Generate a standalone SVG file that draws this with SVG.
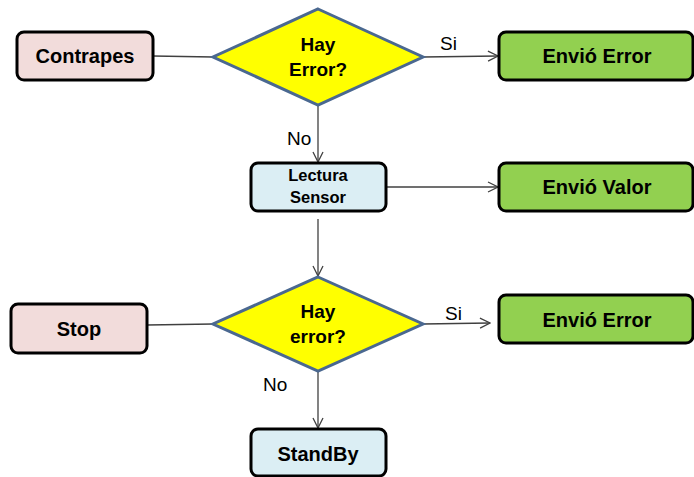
<svg xmlns="http://www.w3.org/2000/svg" width="694" height="477" viewBox="0 0 694 477">
  <defs>
    <style>
      .box { stroke: #000; stroke-width: 3; }
      .pink { fill: #F2DCDB; }
      .blue { fill: #DBEEF4; }
      .green { fill: #92D050; }
      .dec { fill: #FFFF00; stroke: #4A6890; stroke-width: 3; stroke-linejoin: miter; }
      .lbl { font-family: "Liberation Sans", Arial, sans-serif; font-weight: bold; fill: #000; text-anchor: middle; }
      .big { font-size: 20px; }
      .mid { font-size: 19px; }
      .small { font-size: 16.5px; }
      .edge { font-family: "Liberation Sans", Arial, sans-serif; font-size: 19px; fill: #000; }
      .conn { stroke: #404040; stroke-width: 1.3; fill: none; }
    </style>
    <marker id="arrow" viewBox="0 0 12 12" refX="11" refY="6" markerWidth="12" markerHeight="12" markerUnits="userSpaceOnUse" orient="auto">
      <path d="M1,1 L11,6 L1,11" fill="none" stroke="#404040" stroke-width="1.3"/>
    </marker>
  </defs>
  <rect width="694" height="477" fill="#fff"/>

  <g id="connectors">
    <line class="conn" x1="153" y1="56" x2="213" y2="57"/>
    <line class="conn" x1="423" y1="57" x2="498" y2="56" marker-end="url(#arrow)"/>
    <line class="conn" x1="318" y1="105" x2="318" y2="162" marker-end="url(#arrow)"/>
    <line class="conn" x1="386" y1="187" x2="498" y2="187" marker-end="url(#arrow)"/>
    <line class="conn" x1="318" y1="219" x2="318" y2="276" marker-end="url(#arrow)"/>
    <line class="conn" x1="147" y1="325" x2="213" y2="324"/>
    <line class="conn" x1="423" y1="324" x2="490" y2="323" marker-end="url(#arrow)"/>
    <line class="conn" x1="318" y1="371" x2="318" y2="428" marker-end="url(#arrow)"/>
    <text class="edge" x="440" y="50">Si</text>
    <text class="edge" x="287" y="145">No</text>
    <text class="edge" x="445" y="320">Si</text>
    <text class="edge" x="263" y="391">No</text>
  </g>

  <g id="contrapes">
    <rect class="box pink" x="17" y="32" width="136" height="48" rx="7"/>
    <text class="lbl big" x="85" y="63">Contrapes</text>
  </g>

  <g id="decision1">
    <polygon class="dec" points="318,9 423,57 318,105 213,57"/>
    <text class="lbl mid" x="318" y="51">Hay</text>
    <text class="lbl mid" x="318" y="76">Error?</text>
  </g>

  <g id="envio-error-1">
    <rect class="box green" x="499" y="32" width="194" height="48" rx="7"/>
    <text class="lbl big" x="597" y="63">Envió Error</text>
  </g>

  <g id="lectura-sensor">
    <rect class="box blue" x="251" y="163" width="135" height="48" rx="7"/>
    <text class="lbl small" x="318" y="181">Lectura</text>
    <text class="lbl small" x="318" y="203">Sensor</text>
  </g>

  <g id="envio-valor">
    <rect class="box green" x="499" y="163" width="194" height="48" rx="7"/>
    <text class="lbl big" x="597" y="194">Envió Valor</text>
  </g>

  <g id="stop">
    <rect class="box pink" x="11" y="304" width="136" height="49" rx="7"/>
    <text class="lbl big" x="79" y="336">Stop</text>
  </g>

  <g id="decision2">
    <polygon class="dec" points="318,277 423,324 318,371 213,324"/>
    <text class="lbl mid" x="318" y="318">Hay</text>
    <text class="lbl mid" x="318" y="343">error?</text>
  </g>

  <g id="envio-error-2">
    <rect class="box green" x="499" y="295" width="194" height="48" rx="7"/>
    <text class="lbl big" x="597" y="327">Envió Error</text>
  </g>

  <g id="standby">
    <rect class="box blue" x="251" y="429" width="135" height="47" rx="7"/>
    <text class="lbl big" x="318" y="461">StandBy</text>
  </g>
</svg>
